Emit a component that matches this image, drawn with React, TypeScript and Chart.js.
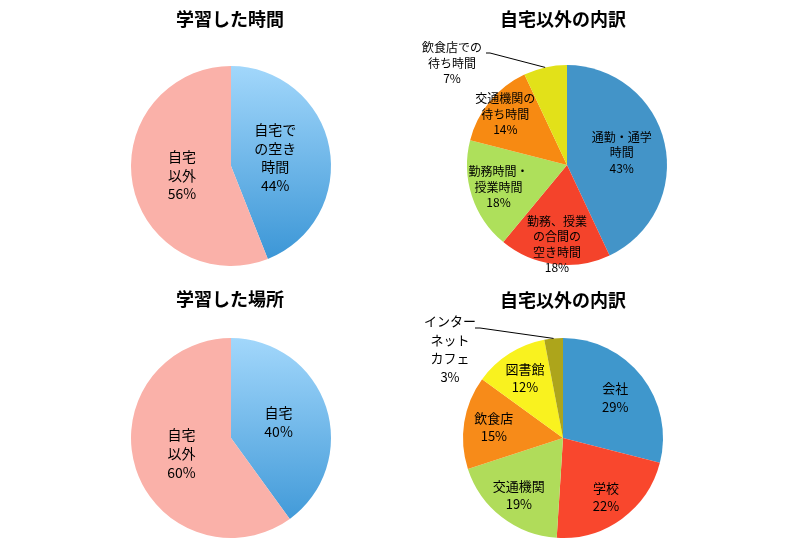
import React, { useEffect, useRef } from "react";
import { Chart, registerables } from "chart.js";

Chart.register(...registerables);

// ---- Data ----
const timeTitle = "学習した時間";
const timeCategories = ["自宅で\nの空き\n時間", "自宅\n以外"];
const timeValues = [44, 56];

const timeOutsideTitle = "自宅以外の内訳";
const timeOutsideCategories = [
  "通勤・通学\n時間",
  "勤務、授業\nの合間の\n空き時間",
  "勤務時間・\n授業時間",
  "交通機関の\n待ち時間",
  "飲食店での\n待ち時間",
];
const timeOutsideValues = [43, 18, 18, 14, 7];

const placeTitle = "学習した場所";
const placeCategories = ["自宅", "自宅\n以外"];
const placeValues = [40, 60];

const placeOutsideTitle = "自宅以外の内訳";
const placeOutsideCategories = ["会社", "学校", "交通機関", "飲食店", "図書館", "インター\nネット\nカフェ"];
const placeOutsideValues = [29, 22, 19, 15, 12, 3];

// ---- Styles ----
const FONT = "'Noto Sans CJK JP', 'Noto Sans', sans-serif";
const PINK = "#FAB1A9";
const BLUE_TOP = "#A2D7FB";
const BLUE_BOTTOM = "#3894D5";

type Panel = {
  left: number;
  top: number;
  width: number;
  height: number;
  padding: { left: number; right: number; top: number; bottom: number };
  title: string;
  titleX: number;
  titleY: number;
  categories: string[];
  values: number[];
  colors: (string | "gradient")[];
  fontSize: number;
  lineHeight: number;
  fracs: number[];
  outside?: { index: number; textDx: number; textDy: number; kneeDx: number; kneeDy: number; knee2Dx: number };
};

const panels: Panel[] = [
  {
    left: 0, top: 0, width: 400, height: 278,
    padding: { left: 131, right: 69, top: 66, bottom: 12 },
    title: timeTitle, titleX: 230, titleY: 19,
    categories: timeCategories, values: timeValues,
    colors: ["gradient", PINK],
    fontSize: 14, lineHeight: 18.5,
    fracs: [0.45, 0.5],
  },
  {
    left: 400, top: 0, width: 400, height: 278,
    padding: { left: 67, right: 133, top: 65, bottom: 13 },
    title: timeOutsideTitle, titleX: 163, titleY: 19,
    categories: timeOutsideCategories, values: timeOutsideValues,
    colors: ["#4394C8", "#F4432B", "#AEE05B", "#F78A12", "#E2E119"],
    fontSize: 12, lineHeight: 15.5,
    fracs: [0.56, 0.8, 0.72, 0.8, 0],
    outside: { index: 4, textDx: -115, textDy: -102, kneeDx: -77, kneeDy: -112, knee2Dx: -81 },
  },
  {
    left: 0, top: 278, width: 400, height: 279,
    padding: { left: 131, right: 69, top: 60, bottom: 19 },
    title: placeTitle, titleX: 230, titleY: 21,
    categories: placeCategories, values: placeValues,
    colors: ["gradient", PINK],
    fontSize: 14, lineHeight: 19,
    fracs: [0.5, 0.52],
  },
  {
    left: 400, top: 278, width: 400, height: 279,
    padding: { left: 63, right: 137, top: 60, bottom: 19 },
    title: placeOutsideTitle, titleX: 163, titleY: 22,
    categories: placeOutsideCategories, values: placeOutsideValues,
    colors: ["#3F97CC", "#F9472D", "#B0DC5A", "#F78B19", "#F9F21F", "#ADA51B"],
    fontSize: 13, lineHeight: 18.5,
    fracs: [0.66, 0.73, 0.72, 0.7, 0.71, 0],
    outside: { index: 5, textDx: -113, textDy: -89, kneeDx: -83, kneeDy: -110, knee2Dx: -88 },
  },
];

function PieChart({ panel }: { panel: Panel }) {
  const ref = useRef<HTMLCanvasElement | null>(null);

  useEffect(() => {
    if (!ref.current) return;

    const overlay = {
      id: "overlay",
      afterDatasetsDraw(chart: any) {
        const ctx = chart.ctx as CanvasRenderingContext2D;
        ctx.save();
        // title
        ctx.fillStyle = "#000";
        ctx.font = `bold 18px ${FONT}`;
        ctx.textAlign = "center";
        ctx.textBaseline = "middle";
        ctx.fillText(panel.title, panel.titleX, panel.titleY);

        const meta = chart.getDatasetMeta(0);
        ctx.font = `${panel.fontSize}px ${FONT}`;
        meta.data.forEach((arc: any, i: number) => {
          const p = arc.getProps(["x", "y", "startAngle", "endAngle", "outerRadius"], true);
          const mid = (p.startAngle + p.endAngle) / 2;
          const lines = [...panel.categories[i].split("\n"), panel.values[i] + "%"];
          let cx: number, cy: number;
          if (panel.outside && panel.outside.index === i) {
            const o = panel.outside;
            cx = p.x + o.textDx;
            cy = p.y + o.textDy;
            const ex = p.x + Math.cos(mid) * p.outerRadius;
            const ey = p.y + Math.sin(mid) * p.outerRadius;
            ctx.beginPath();
            ctx.strokeStyle = "#000";
            ctx.lineWidth = 1;
            ctx.moveTo(p.x + o.knee2Dx, p.y + o.kneeDy);
            ctx.lineTo(p.x + o.kneeDx, p.y + o.kneeDy);
            ctx.lineTo(ex, ey);
            ctx.stroke();
          } else {
            const f = panel.fracs[i];
            cx = p.x + Math.cos(mid) * p.outerRadius * f;
            cy = p.y + Math.sin(mid) * p.outerRadius * f;
          }
          ctx.fillStyle = "#000";
          const total = lines.length * panel.lineHeight;
          lines.forEach((ln, k) => {
            ctx.fillText(ln, cx, cy - total / 2 + panel.lineHeight * (k + 0.5));
          });
        });
        ctx.restore();
      },
    };

    const bg = (c: any) => {
      const col = panel.colors[c.dataIndex];
      if (col !== "gradient") return col;
      const area = c.chart.chartArea;
      if (!area) return BLUE_BOTTOM;
      const g = c.chart.ctx.createLinearGradient(0, area.top, 0, area.bottom);
      g.addColorStop(0, BLUE_TOP);
      g.addColorStop(1, BLUE_BOTTOM);
      return g;
    };

    const chart = new Chart(ref.current, {
      type: "pie",
      data: {
        labels: panel.categories.map((c) => c.replace(/\n/g, "")),
        datasets: [
          {
            data: panel.values,
            backgroundColor: bg as any,
            borderWidth: 0,
          },
        ],
      },
      options: {
        responsive: false,
        animation: false,
        radius: 100,
        layout: { padding: panel.padding },
        plugins: {
          legend: { display: false },
          title: { display: false },
          tooltip: { enabled: false },
        },
      } as any,
      plugins: [overlay],
    });
    return () => chart.destroy();
  }, [panel]);

  return (
    <canvas
      ref={ref}
      width={panel.width}
      height={panel.height}
      style={{ position: "absolute", left: panel.left, top: panel.top, width: panel.width, height: panel.height }}
    />
  );
}

export default function App() {
  return (
    <div style={{ position: "fixed", left: 0, top: 0, width: 800, height: 557, background: "#fff" }}>
      {panels.map((p, i) => (
        <PieChart key={i} panel={p} />
      ))}
    </div>
  );
}
